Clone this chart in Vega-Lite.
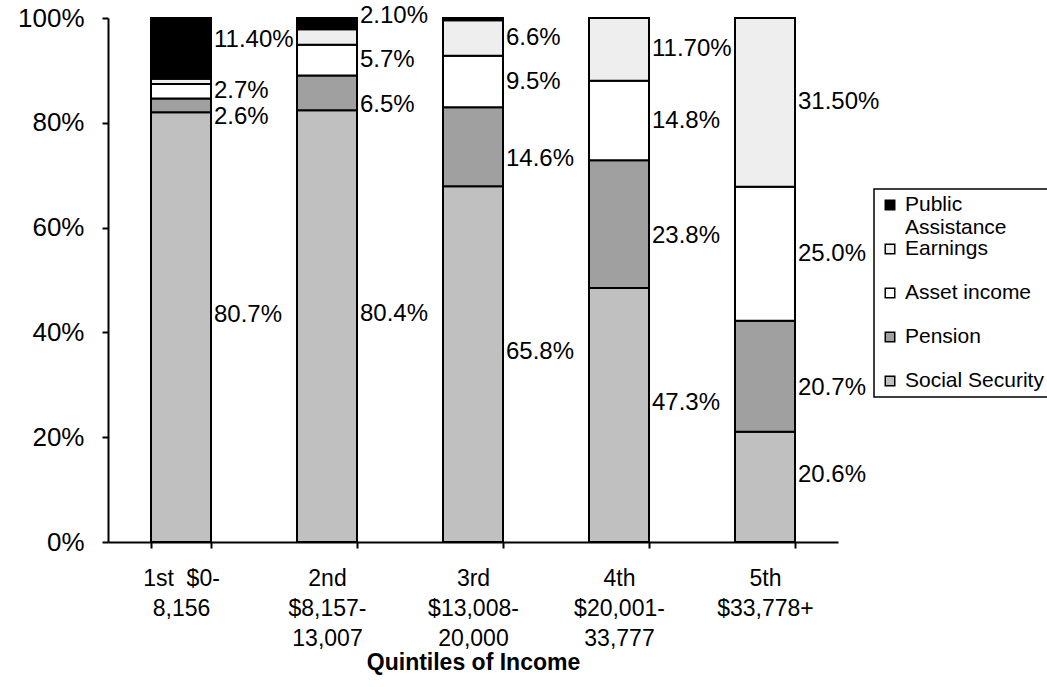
{
  "$schema": "https://vega.github.io/schema/vega-lite/v6.json",
  "width": 730,
  "height": 524,
  "autosize": {"type": "none"},
  "padding": {"left": 108, "top": 18, "right": 209, "bottom": 145},
  "background": "white",
  "config": {
    "font": "Liberation Sans",
    "view": {"stroke": null},
    "axis": {
      "labelColor": "black",
      "titleColor": "black",
      "domainColor": "black",
      "tickColor": "black",
      "domainWidth": 2,
      "tickWidth": 2,
      "grid": false
    },
    "legend": {"labelColor": "black"},
    "text": {"align": "left", "baseline": "middle", "dx": 33, "fontSize": 24, "color": "black"}
  },
  "data": {
    "values": [
      {"quintile": "1st $0-8,156", "source": "Social Security", "value": 80.7, "label": "80.7%"},
      {"quintile": "1st $0-8,156", "source": "Pension", "value": 2.6, "label": "2.6%"},
      {"quintile": "1st $0-8,156", "source": "Asset income", "value": 2.7, "label": "2.7%"},
      {"quintile": "1st $0-8,156", "source": "Earnings", "value": 1.0, "label": null},
      {"quintile": "1st $0-8,156", "source": "Public Assistance", "value": 11.4, "label": "11.40%"},
      {"quintile": "2nd $8,157-13,007", "source": "Social Security", "value": 80.4, "label": "80.4%"},
      {"quintile": "2nd $8,157-13,007", "source": "Pension", "value": 6.5, "label": "6.5%"},
      {"quintile": "2nd $8,157-13,007", "source": "Asset income", "value": 5.7, "label": "5.7%"},
      {"quintile": "2nd $8,157-13,007", "source": "Earnings", "value": 2.9, "label": null},
      {"quintile": "2nd $8,157-13,007", "source": "Public Assistance", "value": 2.1, "label": "2.10%"},
      {"quintile": "3rd $13,008-20,000", "source": "Social Security", "value": 65.8, "label": "65.8%"},
      {"quintile": "3rd $13,008-20,000", "source": "Pension", "value": 14.6, "label": "14.6%"},
      {"quintile": "3rd $13,008-20,000", "source": "Asset income", "value": 9.5, "label": "9.5%"},
      {"quintile": "3rd $13,008-20,000", "source": "Earnings", "value": 6.6, "label": "6.6%"},
      {"quintile": "3rd $13,008-20,000", "source": "Public Assistance", "value": 0.4, "label": null},
      {"quintile": "4th $20,001-33,777", "source": "Social Security", "value": 47.3, "label": "47.3%"},
      {"quintile": "4th $20,001-33,777", "source": "Pension", "value": 23.8, "label": "23.8%"},
      {"quintile": "4th $20,001-33,777", "source": "Asset income", "value": 14.8, "label": "14.8%"},
      {"quintile": "4th $20,001-33,777", "source": "Earnings", "value": 11.7, "label": "11.70%"},
      {"quintile": "5th $33,778+", "source": "Social Security", "value": 20.6, "label": "20.6%"},
      {"quintile": "5th $33,778+", "source": "Pension", "value": 20.7, "label": "20.7%"},
      {"quintile": "5th $33,778+", "source": "Asset income", "value": 25.0, "label": "25.0%"},
      {"quintile": "5th $33,778+", "source": "Earnings", "value": 31.5, "label": "31.50%"}
    ]
  },
  "transform": [
    {"calculate": "indexof(['Social Security', 'Pension', 'Asset income', 'Earnings', 'Public Assistance'], datum.source)", "as": "stackOrder"},
    {"stack": "value", "groupby": ["quintile"], "sort": [{"field": "stackOrder", "order": "ascending"}], "offset": "normalize", "as": ["y0", "y1"]},
    {"calculate": "(datum.y0 + datum.y1) / 2", "as": "ymid"}
  ],
  "encoding": {
    "x": {
      "field": "quintile",
      "type": "nominal",
      "sort": null,
      "scale": {"paddingInner": 0.589, "paddingOuter": 0.2945},
      "axis": {
        "title": "Quintiles of Income",
        "titleFontSize": 23,
        "titleFontWeight": "bold",
        "titleBaseline": "alphabetic",
        "titleY": 127,
        "labelAngle": 0,
        "labelFontSize": 23,
        "labelLineHeight": 30,
        "labelPadding": 19,
        "labelAlign": "center",
        "tickBand": "extent",
        "tickSize": 6,
        "labelExpr": "{'1st $0-8,156': ['1st\u00a0 $0-', '8,156'], '2nd $8,157-13,007': ['2nd', '$8,157-', '13,007'], '3rd $13,008-20,000': ['3rd', '$13,008-', '20,000'], '4th $20,001-33,777': ['4th', '$20,001-', '33,777'], '5th $33,778+': ['5th', '$33,778+']}[datum.label]"
      }
    }
  },
  "layer": [
    {
      "mark": {"type": "bar", "stroke": "black", "strokeWidth": 2},
      "encoding": {
        "y": {
          "field": "y0",
          "type": "quantitative",
          "scale": {"domain": [0, 1]},
          "axis": {
            "title": null,
            "values": [0, 0.2, 0.4, 0.6, 0.8, 1],
            "format": ".0%",
            "labelFontSize": 26,
            "labelPadding": 18,
            "tickSize": 6
          }
        },
        "y2": {"field": "y1"},
        "color": {
          "field": "source",
          "type": "nominal",
          "scale": {
            "domain": ["Public Assistance", "Earnings", "Asset income", "Pension", "Social Security"],
            "range": ["#000000", "#eeeeee", "#ffffff", "#a0a0a0", "#c0c0c0"]
          },
          "legend": {
            "title": null,
            "orient": "none",
            "legendX": 766,
            "legendY": 171,
            "direction": "vertical",
            "fillColor": "white",
            "strokeColor": "black",
            "padding": 5.5,
            "symbolType": "square",
            "symbolSize": 90,
            "symbolStrokeColor": "black",
            "symbolStrokeWidth": 1.5,
            "labelFontSize": 21,
            "labelOffset": 4.5,
            "labelLimit": 220,
            "rowPadding": -2,
            "labelExpr": "datum.label == 'Public Assistance' ? ['Public', 'Assistance'] : datum.label == 'Social Security' ? datum.label : [datum.label, '']",
            "encode": {"legend": {"update": {"strokeWidth": {"value": 1.5}}}}
          }
        }
      }
    },
    {
      "transform": [{"filter": "datum.label != null && datum.source == 'Social Security'"}],
      "mark": {"type": "text", "dy": -12},
      "encoding": {
        "y": {"field": "ymid", "type": "quantitative"},
        "text": {"field": "label"}
      }
    },
    {
      "transform": [{"filter": "datum.label != null && datum.source == 'Pension'"}],
      "mark": {"type": "text", "dy": 12},
      "encoding": {
        "y": {"field": "ymid", "type": "quantitative"},
        "text": {"field": "label"}
      }
    },
    {
      "transform": [{"filter": "datum.label != null && datum.source == 'Public Assistance'"}],
      "mark": {"type": "text", "dy": -8},
      "encoding": {
        "y": {"field": "ymid", "type": "quantitative"},
        "text": {"field": "label"}
      }
    },
    {
      "transform": [{"filter": "datum.label != null && (datum.source == 'Asset income' || datum.source == 'Earnings')"}],
      "mark": {"type": "text"},
      "encoding": {
        "y": {"field": "ymid", "type": "quantitative"},
        "text": {"field": "label"}
      }
    }
  ]
}
